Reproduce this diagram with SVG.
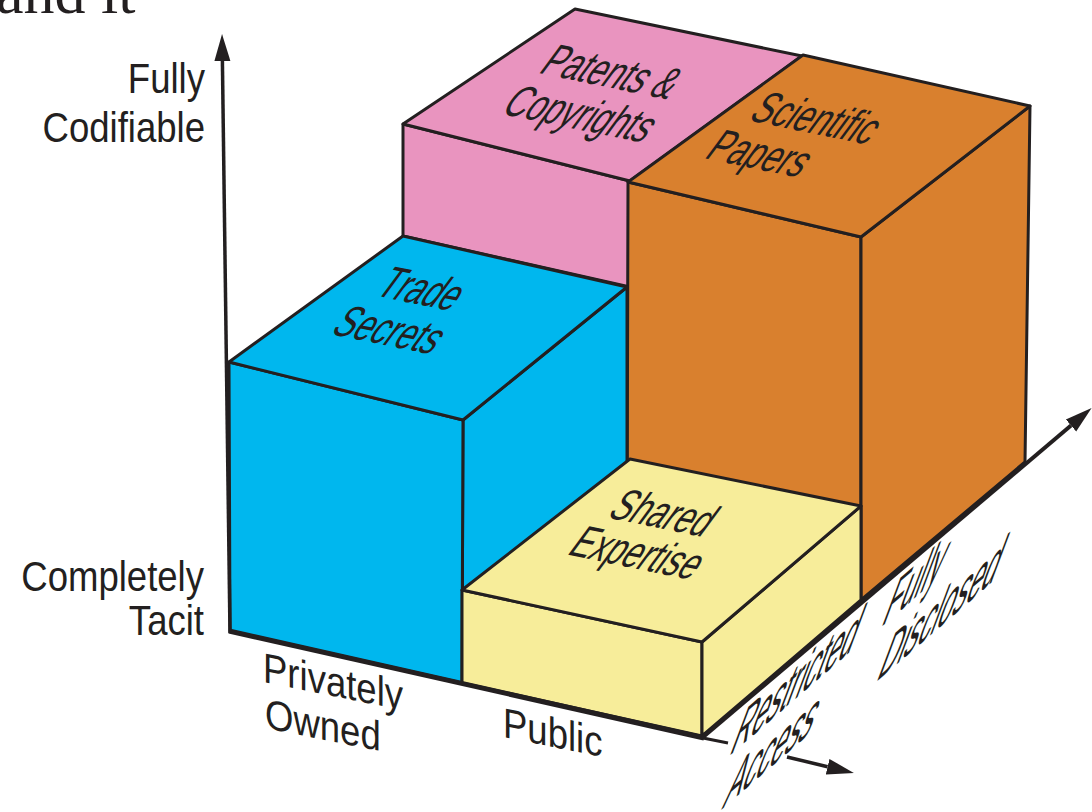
<svg xmlns="http://www.w3.org/2000/svg" width="1092" height="812" viewBox="0 0 1092 812">
<defs>
<style>
.e{stroke:#231f20;stroke-width:3;stroke-linejoin:round}
.pk{fill:#e994bf}
.or{fill:#d9802e}
.bl{fill:#00b7ee}
.ye{fill:#f7ed9a}
.t{font-family:"Liberation Sans",Arial,sans-serif;fill:#231f20;font-size:42px}
.f{font-family:"Liberation Sans",Arial,sans-serif;fill:#231f20;font-size:36px}
.d{font-family:"Liberation Sans",Arial,sans-serif;fill:#231f20;font-size:44px}
.ax{stroke:#231f20;fill:none;stroke-linecap:butt}
</style>
<marker id="ah" markerUnits="userSpaceOnUse" markerWidth="28" markerHeight="18" refX="0" refY="8" orient="auto" viewBox="0 0 28 16">
<path d="M0,0 L27,8 L0,16 z" fill="#231f20"/>
</marker>
</defs>
<rect width="1092" height="812" fill="#ffffff"/>
<text x="-4" y="13" font-family="'Liberation Serif',serif" font-size="62" fill="#231f20">and it</text>

<g id="patents">
<polygon class="e pk" points="403,124 630,181 630,287 403,236"/>
<polygon class="e pk" points="403,124 575,9 802,56 630,181"/>
<text class="f" text-anchor="middle" transform="matrix(0.83,0.17,-0.85,1.15,602,86)">Patents &amp;</text>
<text class="f" text-anchor="middle" transform="matrix(0.83,0.17,-0.85,1.15,571,128)">Copyrights</text>
</g>

<g id="scientific">
<polygon class="e or" points="628,182 861,237 861,600 627,550"/>
<polygon class="e or" points="861,237 1030,106 1025,462 861,600"/>
<polygon class="e or" points="628,182 803,55 1030,106 861,237"/>
<text class="f" transform="matrix(0.83,0.17,-0.85,1.15,747,120)">Scientific</text>
<text class="f" transform="matrix(0.83,0.17,-0.85,1.15,703,158)">Papers</text>
</g>

<g id="trade">
<polygon class="e bl" points="463,420 627,287 627,550 462,683"/>
<polygon class="e bl" points="229,362 463,420 462,683 230,631"/>
<polygon class="e bl" points="229,362 403,236 627,287 463,420"/>
<text class="f" text-anchor="middle" transform="matrix(0.83,0.17,-0.85,1.15,412,303)">Trade</text>
<text class="f" text-anchor="middle" transform="matrix(0.83,0.17,-0.85,1.15,380,344)">Secrets</text>
</g>

<g id="shared">
<polygon class="e ye" points="462,590 702,642 702,736 462,683"/>
<polygon class="e ye" points="702,642 861,506 861,600 702,736"/>
<polygon class="e ye" points="462,590 630,459 861,506 702,642"/>
<text class="f" text-anchor="middle" transform="matrix(0.83,0.17,-0.85,1.15,654,527)">Shared</text>
<text class="f" text-anchor="middle" transform="matrix(0.83,0.17,-0.85,1.15,628,567)">Expertise</text>
</g>

<g id="connectors">
<line class="ax" x1="230" y1="633" x2="222.4" y2="61" stroke-width="3.5" marker-end="url(#ah)"/>
<line class="ax" x1="229" y1="631" x2="704" y2="738" stroke-width="5"/>
<line class="ax" x1="703" y1="738" x2="728" y2="743" stroke-width="3"/>
<line class="ax" x1="787" y1="757" x2="827.6" y2="766.7" stroke-width="3.5" marker-end="url(#ah)"/>
<line class="ax" x1="702" y1="738" x2="1071" y2="425.5" stroke-width="4" marker-end="url(#ah)"/>
</g>

<g id="axis-labels">
<text class="t" text-anchor="end" transform="translate(205,93) scale(0.87,1)">Fully</text>
<text class="t" text-anchor="end" transform="translate(205,142) scale(0.87,1)">Codifiable</text>
<text class="t" text-anchor="end" transform="translate(204,591) scale(0.87,1)">Completely</text>
<text class="t" text-anchor="end" transform="translate(204,635) scale(0.87,1)">Tacit</text>
<text class="t" transform="matrix(0.87,0.174,0,1,263,682)">Privately</text>
<text class="t" transform="matrix(0.87,0.174,0,1,265,728)">Owned</text>
<text class="t" transform="matrix(0.87,0.174,0,1,503,737)">Public</text>
<text class="d" transform="matrix(0.62,-0.535,-0.6,1.6,728,757)">Restricted</text>
<text class="d" transform="matrix(0.62,-0.535,-0.6,1.6,721,810)">Access</text>
<text class="d" transform="matrix(0.62,-0.535,-0.6,1.6,880,628)">Fully</text>
<text class="d" transform="matrix(0.62,-0.535,-0.6,1.6,875,683)">Disclosed</text>
</g>
</svg>
